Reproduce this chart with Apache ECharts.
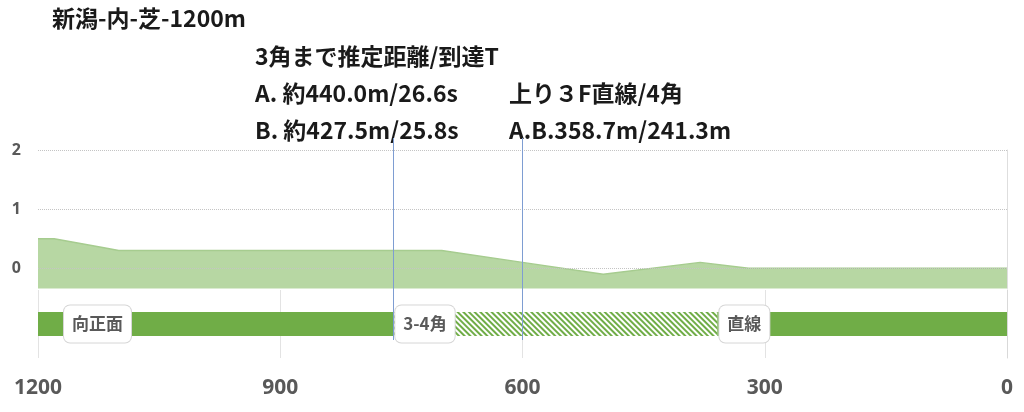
<!DOCTYPE html>
<html>
<head>
<meta charset="utf-8">
<script src="https://cdn.jsdelivr.net/npm/echarts@6/dist/echarts.min.js"></script>
<style>
  html, body { margin: 0; padding: 0; background: #fff; }
  #chart { width: 1024px; height: 412px; }
</style>
</head>
<body>
<div id="chart"></div>
<script>
// 高低差 (残り距離 m, 高さ m)
const elevDist = [1200, 1180, 1120, 1100, 700, 600, 500, 380, 320, 0];
const elevHeight = [0.5, 0.5, 0.35, 0.3, 0.3, 0.1, -0.1, 0.1, 0, 0];
const yTicks = [0, 1, 2];

// コース区間 (ゴール側から)
const sectionNames = ['直線', '3-4角', '向正面'];
const sectionLengths = [358.7, 401.3, 440.0];

// 縦線 (残り距離)
const markerDist = [760, 600];

const titleText = '新潟-内-芝-1200m';
const noteTexts = [
  '3角まで推定距離/到達T',
  'A. 約440.0m/26.6s',
  '上り３F直線/4角',
  'B. 約427.5m/25.8s',
  'A.B.358.7m/241.3m'
];

const GREEN = '#70ad47';
const GRAY = '#595959';
const notePos = [[255, 56], [255, 93], [509, 93], [255, 130], [509, 130]];

const chart = echarts.init(document.getElementById('chart'), null, { renderer: 'canvas' });

const textEl = (text, x, y) => ({
  type: 'text', x: x, y: y,
  style: {
    text: text,
    font: 'bold 23px "Noto Sans CJK JP"',
    fill: '#1a1a1a',
    verticalAlign: 'middle',
    textVerticalAlign: 'middle'
  }
});

const barSeries = sectionNames.map((name, i) => {
  const hatched = name === '3-4角';
  return {
    name: name,
    type: 'bar',
    stack: 'course',
    xAxisIndex: 1,
    yAxisIndex: 1,
    barWidth: 24,
    z: 3,
    data: [sectionLengths[i]],
    itemStyle: hatched ? {
      color: 'rgba(255,255,255,0)',
      decal: {
        symbol: 'rect',
        symbolSize: 1,
        color: GREEN,
        backgroundColor: 'rgba(255,255,255,0)',
        dashArrayX: [1, 0],
        dashArrayY: [2, 2],
        rotation: Math.PI / 4
      }
    } : { color: GREEN },
    label: {
      show: true,
      position: 'insideLeft',
      distance: name === '向正面' ? 26 : 2,
      formatter: name,
      fontFamily: 'Noto Sans CJK JP',
      fontWeight: 'bold',
      fontSize: 17,
      color: GRAY,
      backgroundColor: '#fff',
      borderColor: '#d6d6d6',
      borderWidth: 1,
      borderRadius: 6,
      padding: [10, 8]
    }
  };
});

chart.setOption({
  animation: false,
  graphic: [textEl(titleText, 52, 18)].concat(noteTexts.map((t, i) => textEl(t, notePos[i][0], notePos[i][1]))),
  grid: [
    { left: 38, right: 17, top: 150, bottom: 123.6 },
    { left: 38, right: 17, top: 290, bottom: 54 },
    { left: 38, right: 17, top: 138, bottom: 72 }
  ],
  xAxis: [
    { gridIndex: 0, type: 'value', min: 0, max: 1200, inverse: true, show: false },
    {
      gridIndex: 1, type: 'value', min: 0, max: 1200, interval: 300, inverse: true,
      axisLine: { lineStyle: { color: '#d9d9d9' } },
      axisTick: { show: false },
      splitLine: { show: true, lineStyle: { color: '#e3e3e3' } },
      axisLabel: {
        formatter: v => String(v),
        fontFamily: 'Noto Sans', fontWeight: 'bold', fontSize: 21, color: GRAY, margin: 20
      }
    },
    { gridIndex: 2, type: 'value', min: 0, max: 1200, inverse: true, show: false }
  ],
  yAxis: [
    {
      gridIndex: 0, type: 'value', min: -0.34, max: 2,
      axisLine: { show: true, lineStyle: { color: '#dedede' } },
      axisTick: { show: true, customValues: yTicks, length: 6, lineStyle: { color: '#c8c8c8', type: 'dotted' } },
      axisLabel: { customValues: yTicks, fontFamily: 'Noto Sans', fontWeight: 'bold', fontSize: 16, color: GRAY, margin: 17 },
      splitLine: { show: false }
    },
    {
      gridIndex: 1, type: 'category', data: ['course'],
      axisLine: { show: true, lineStyle: { color: '#d9d9d9' } },
      axisTick: { show: false },
      axisLabel: { show: false }
    },
    { gridIndex: 2, type: 'value', min: 0, max: 1, show: false }
  ],
  series: [
    {
      type: 'line',
      xAxisIndex: 0,
      yAxisIndex: 0,
      z: 1,
      symbol: 'none',
      data: elevDist.map((d, i) => [d, elevHeight[i]]),
      lineStyle: { color: '#a6cc8f', width: 1.5 },
      areaStyle: { origin: 'start', color: '#b7d7a3', opacity: 1 },
      markLine: {
        silent: true,
        symbol: ['none', 'none'],
        label: { show: false },
        lineStyle: { type: 'dotted', color: '#c4c4c4', width: 1 },
        data: yTicks.map(v => ({ yAxis: v }))
      }
    },
    {
      type: 'line',
      xAxisIndex: 2,
      yAxisIndex: 2,
      z: 2,
      data: [],
      markLine: {
        silent: true,
        symbol: ['none', 'none'],
        label: { show: false },
        lineStyle: { type: 'solid', color: '#7e9dd2', width: 1 },
        data: markerDist.map(v => ({ xAxis: v }))
      }
    }
  ].concat(barSeries)
});
</script>
</body>
</html>
